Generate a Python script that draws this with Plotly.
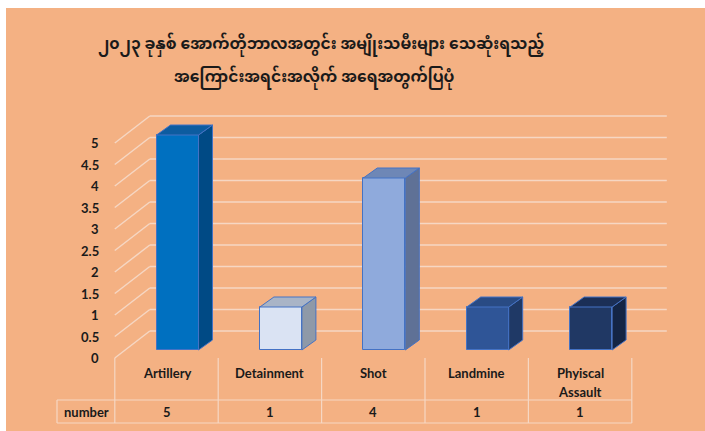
import plotly.graph_objects as go

# ---------------- data ----------------
TITLE_LINES = [
    "၂၀၂၃ ခုနှစ် အောက်တိုဘာလအတွင်း အမျိုးသမီးများ သေဆုံးရသည့်",
    "အကြောင်းအရင်းအလိုက် အရေအတွက်ပြပုံ",
]
categories = ["Artillery", "Detainment", "Shot", "Landmine", "Phyiscal Assault"]
values = [5, 1, 4, 1, 1]
series_name = "number"
y_ticks = [0, 0.5, 1, 1.5, 2, 2.5, 3, 3.5, 4, 4.5, 5]
y_tick_text = ["0", "0.5", "1", "1.5", "2", "2.5", "3", "3.5", "4", "4.5", "5"]

# ---------------- styling ----------------
W, H = 705, 431
BG = "#F4B183"
GRID = "#F6D7C3"
TXT = "#1A1A1A"
FONT = "Lato, 'Open Sans', sans-serif"
MM_FONT = "'Noto Sans Myanmar', 'Noto Sans Myanmar UI', Padauk, 'Myanmar Text', sans-serif"
front_col = ["#0070C0", "#DAE3F3", "#8FAADC", "#2F5597", "#203864"]
side_col = ["#004A85", "#8E99A8", "#5F7196", "#1F3966", "#142544"]
top_col = ["#0D5CA0", "#A9B4C6", "#6E87B6", "#294B84", "#1B2F56"]
EDGE = "#4472C4"

# pixel <-> data scale (whole figure is the plot area)
CAT_PX = 103.4      # px per category
X0_PX = 166.5       # px of category 0 centre (front plane)
UNIT_PX = 43.0      # px per value unit
Y0_PX = 358.0       # px of value 0 (front plane)

x_range = [(0 - X0_PX) / CAT_PX, (W - X0_PX) / CAT_PX]
y_range = [(Y0_PX - H) / UNIT_PX, Y0_PX / UNIT_PX]

def dx(px):
    return px / CAT_PX

def dy(px):
    return px / UNIT_PX

BAR_DX, BAR_DY = dx(11), dy(8)       # bar plane offset from front plane
WALL_DX, WALL_DY = dx(35), dy(27)    # back wall offset
BAR_W = dx(42)
DEP_DX, DEP_DY = dx(14), dy(10)      # bar depth

n = len(categories)
fig = go.Figure()

shapes = []
# background
shapes.append(dict(type="rect", xref="paper", yref="paper", x0=6 / W, x1=1, y0=0,
                   y1=1 - 8 / H, fillcolor=BG, line_width=0, layer="below"))
# gridlines: back wall + left wall diagonals
xl_front, xr_front = -0.5, n - 0.5
for v in y_ticks:
    shapes.append(dict(type="line", xref="x", yref="y",
                       x0=xl_front + WALL_DX, x1=xr_front + WALL_DX,
                       y0=v + WALL_DY, y1=v + WALL_DY,
                       line=dict(color=GRID, width=1.5), layer="below"))
    shapes.append(dict(type="line", xref="x", yref="y",
                       x0=xl_front, x1=xl_front + WALL_DX,
                       y0=v, y1=v + WALL_DY,
                       line=dict(color=GRID, width=1.5), layer="below"))

# data table
row1_bot = (Y0_PX - 400) / UNIT_PX
row2_bot = (Y0_PX - 423) / UNIT_PX
hdr_left = (57 - X0_PX) / CAT_PX
for k in range(n + 1):
    shapes.append(dict(type="line", xref="x", yref="y", x0=k - 0.5, x1=k - 0.5,
                       y0=0, y1=row2_bot, line=dict(color=GRID, width=1.2), layer="below"))
for yy in (row1_bot, row2_bot):
    shapes.append(dict(type="line", xref="x", yref="y", x0=hdr_left, x1=xr_front,
                       y0=yy, y1=yy, line=dict(color=GRID, width=1.2), layer="below"))
shapes.append(dict(type="line", xref="x", yref="y", x0=hdr_left, x1=hdr_left,
                   y0=row1_bot, y1=row2_bot, line=dict(color=GRID, width=1.2), layer="below"))

# front faces of bars
fig.add_trace(go.Bar(
    x=list(range(n)), y=values, base=BAR_DY, width=BAR_W,
    offset=BAR_DX - BAR_W / 2,
    marker=dict(color=front_col, line=dict(color=EDGE, width=1)),
    showlegend=False, hoverinfo="skip",
))

# side and top faces
for i, v in enumerate(values):
    xl = i + BAR_DX - BAR_W / 2
    xr = i + BAR_DX + BAR_W / 2
    b = BAR_DY
    t = BAR_DY + v
    fig.add_trace(go.Scatter(
        x=[xr, xr + DEP_DX, xr + DEP_DX, xr, xr],
        y=[b, b + DEP_DY, t + DEP_DY, t, b],
        fill="toself", fillcolor=side_col[i], mode="lines",
        line=dict(color=EDGE, width=1), showlegend=False, hoverinfo="skip"))
    fig.add_trace(go.Scatter(
        x=[xl, xl + DEP_DX, xr + DEP_DX, xr, xl],
        y=[t, t + DEP_DY, t + DEP_DY, t, t],
        fill="toself", fillcolor=top_col[i], mode="lines",
        line=dict(color=EDGE, width=1), showlegend=False, hoverinfo="skip"))

annotations = []
# y tick labels (front plane)
for v, s in zip(y_ticks, y_tick_text):
    annotations.append(dict(x=(101 - X0_PX) / CAT_PX, y=v, xref="x", yref="y",
                            text=f"<b>{s}</b>", showarrow=False, xanchor="right",
                            yanchor="middle", font=dict(family=FONT, size=13, color=TXT)))
# category labels
for i, c in enumerate(categories):
    lines = c.split(" ") if len(c) > 12 else [c]
    for j, ln in enumerate(lines):
        annotations.append(dict(x=i, y=(Y0_PX - 373 - 19 * j) / UNIT_PX, xref="x", yref="y",
                                text=f"<b>{ln}</b>", showarrow=False, xanchor="center",
                                yanchor="middle", font=dict(family=FONT, size=13, color=TXT)))
# value row
num_y = (Y0_PX - 412) / UNIT_PX
annotations.append(dict(x=(86 - X0_PX) / CAT_PX, y=num_y, xref="x", yref="y",
                        text=f"<b>{series_name}</b>", showarrow=False,
                        font=dict(family=FONT, size=13, color=TXT)))
for i, v in enumerate(values):
    annotations.append(dict(x=i, y=num_y, xref="x", yref="y", text=f"<b>{v}</b>",
                            showarrow=False, font=dict(family=FONT, size=13, color=TXT)))
# title
for k, (ln, cx, cy) in enumerate(zip(TITLE_LINES, [321, 314], [45, 78])):
    annotations.append(dict(x=cx / W, y=1 - cy / H, xref="paper", yref="paper",
                            text=f"<b>{ln}</b>", showarrow=False, xanchor="center",
                            yanchor="middle", font=dict(family=MM_FONT, size=15.5, color=TXT)))

fig.update_layout(
    width=W, height=H, margin=dict(l=0, r=0, t=0, b=0),
    paper_bgcolor="white", plot_bgcolor="rgba(0,0,0,0)",
    xaxis=dict(range=x_range, visible=False, fixedrange=True),
    yaxis=dict(range=y_range, visible=False, fixedrange=True),
    shapes=shapes, annotations=annotations, bargap=0,
    showlegend=False,
)

fig.write_html("out.html")
